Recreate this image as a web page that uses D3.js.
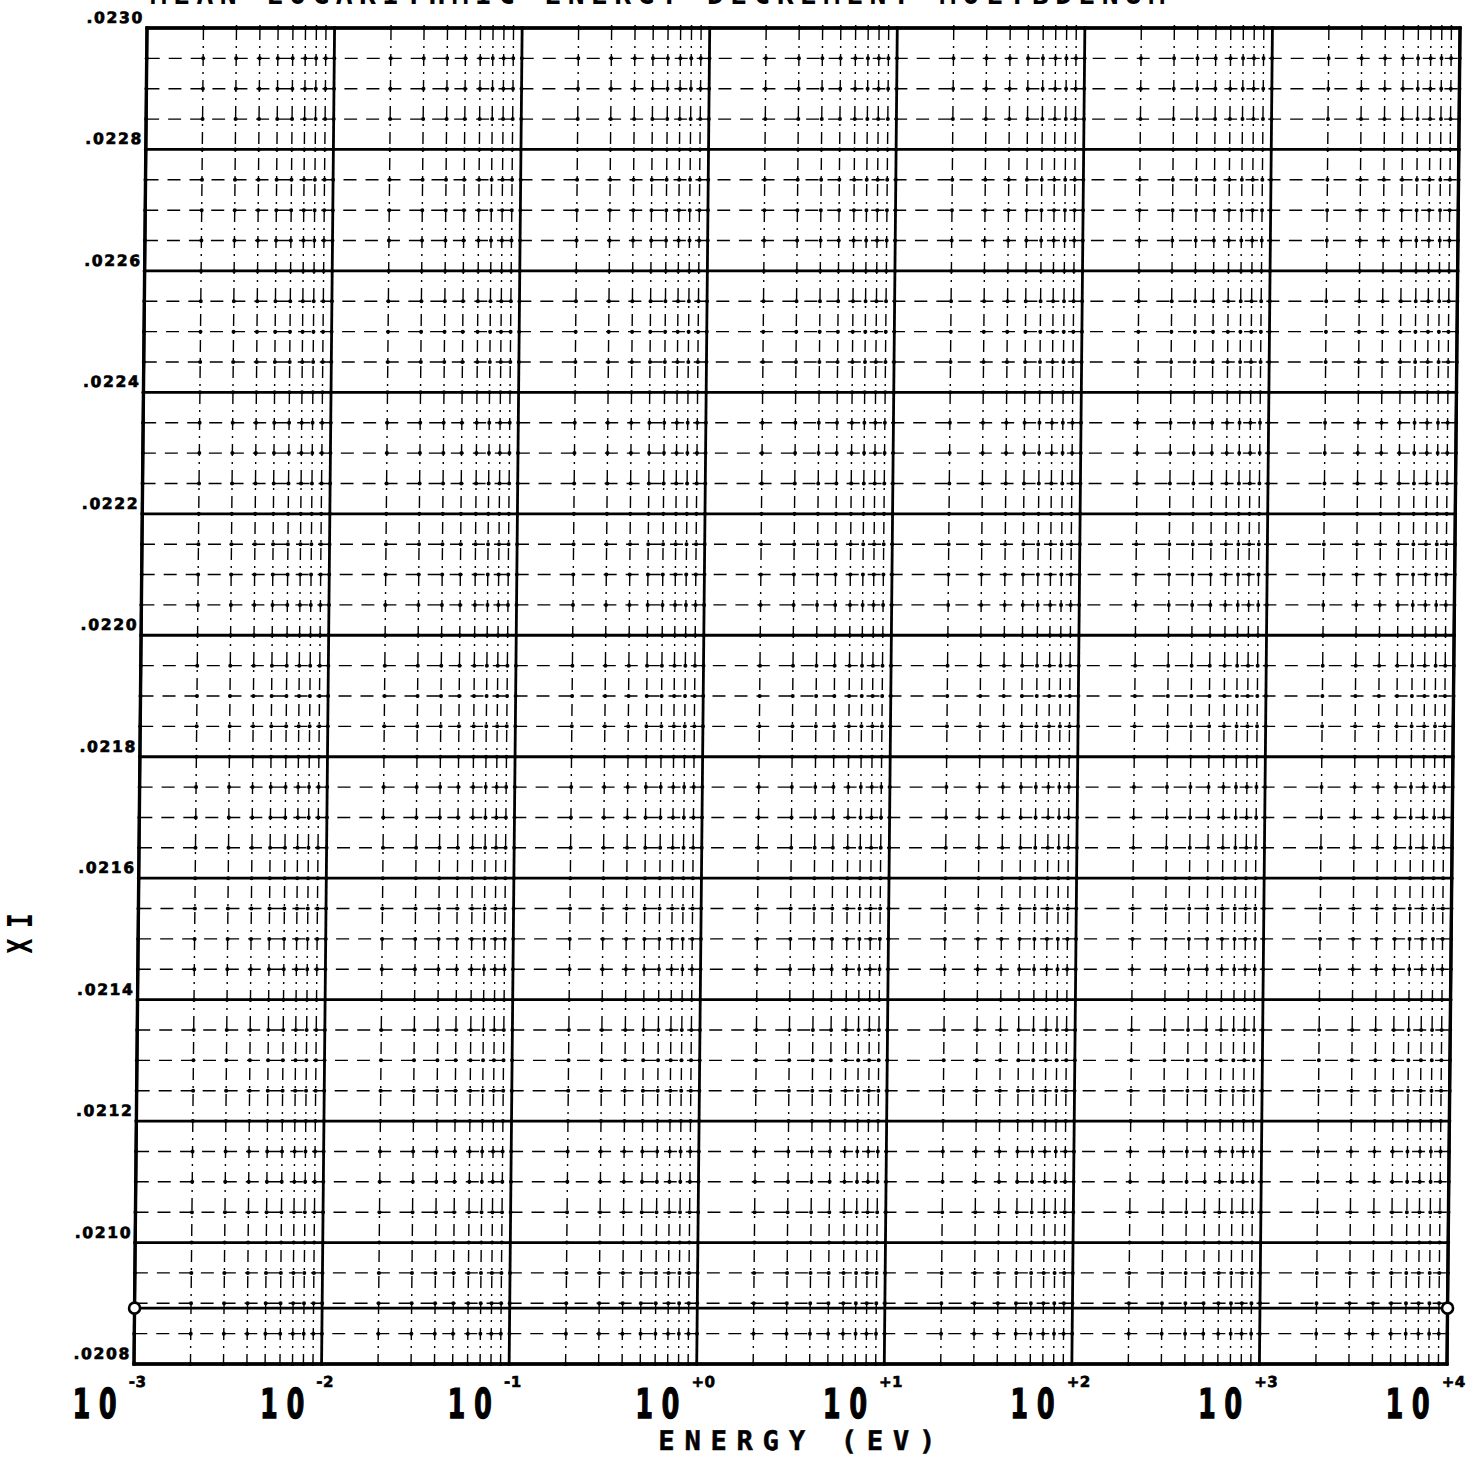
<!DOCTYPE html>
<html>
<head>
<meta charset="utf-8">
<script src="https://cdn.jsdelivr.net/npm/d3@7"></script>
<style>
  html, body { margin: 0; padding: 0; background: #fff; }
  svg { display: block; }
</style>
</head>
<body>
<svg id="chart" width="1467" height="1461"></svg>
<script>
// ---- data ----
const energy = [1e-3, 1e4];            // eV
const xi = [0.020892, 0.020892];       // mean logarithmic energy decrement
const xDecades = [1e-3, 1e-2, 1e-1, 1e0, 1e1, 1e2, 1e3, 1e4];
const xExponents = ["-3", "-2", "-1", "+0", "+1", "+2", "+3", "+4"];
const yMajorTicks = [0.0208, 0.0210, 0.0212, 0.0214, 0.0216, 0.0218,
                     0.0220, 0.0222, 0.0224, 0.0226, 0.0228, 0.0230];
const yTickLabels = [".0208", ".0210", ".0212", ".0214", ".0216", ".0218",
                     ".0220", ".0222", ".0224", ".0226", ".0228", ".0230"];
const titleText = "MEAN LOGARITHMIC ENERGY DECREMENT  MOLYBDENUM";
const xTitle = "ENERGY (EV)";
const yTitle = "XI";

// ---- layout ----
const plot = { left: 147, top: 28, width: 1313, height: 1336 };
const shear = -13 / 1336;                 // plotter frame leans slightly
const shearDeg = Math.atan(shear) * 180 / Math.PI;
const monoBold = "'DejaVu Sans Mono', 'Liberation Mono', monospace";
const sansBold = "'DejaVu Sans', 'Liberation Sans', sans-serif";

const svg = d3.select("#chart");

const x = d3.scaleLog().domain([1e-3, 1e4]).range([0, plot.width]);
const y = d3.scaleLinear().domain([0.0208, 0.0230]).range([plot.height, 0]);

const g = svg.append("g")
  .attr("transform", `translate(${plot.left},${plot.top}) skewX(${shearDeg})`);

// minor positions
const xAll = x.ticks();
const isDecade = v => Math.abs(Math.log10(v) - Math.round(Math.log10(v))) < 1e-9;
const xMinor = xAll.filter(v => !isDecade(v));
const yAll = d3.range(45).map(i => +(0.0208 + i * 0.00005).toFixed(5));
const yMinor = yAll.filter(v => !yMajorTicks.some(m => Math.abs(m - v) < 1e-9));

// minor grid
const minor = g.append("g").attr("stroke", "#000").attr("fill", "none");
minor.selectAll("line.vx").data(xMinor).join("line")
  .attr("x1", d => x(d)).attr("x2", d => x(d))
  .attr("y1", 0).attr("y2", plot.height)
  .attr("stroke-width", 1.4)
  .attr("stroke-dasharray", "12,6,2,6");
minor.selectAll("line.hy").data(yMinor).join("line")
  .attr("x1", 0).attr("x2", plot.width)
  .attr("y1", d => y(d)).attr("y2", d => y(d))
  .attr("stroke-width", 1.4)
  .attr("stroke-dasharray", "13,9");

// cross marks where the grid lines meet
const crosses = [];
xAll.forEach(xv => yAll.forEach(yv => crosses.push([xv, yv])));
g.append("g").selectAll("circle").data(crosses).join("circle")
  .attr("cx", d => x(d[0])).attr("cy", d => y(d[1]))
  .attr("r", 2).attr("fill", "#000");

// small outer ticks along the top edge
g.append("g").attr("stroke", "#000").attr("stroke-width", 1.5)
  .selectAll("line").data(xMinor).join("line")
  .attr("x1", d => x(d)).attr("x2", d => x(d))
  .attr("y1", -3).attr("y2", 0);

// major grid
const major = g.append("g").attr("stroke", "#000").attr("stroke-width", 2.8);
major.selectAll("line.vx").data(xDecades).join("line")
  .attr("x1", d => x(d)).attr("x2", d => x(d))
  .attr("y1", 0).attr("y2", plot.height);
major.selectAll("line.hy").data(yMajorTicks).join("line")
  .attr("x1", 0).attr("x2", plot.width)
  .attr("y1", d => y(d)).attr("y2", d => y(d));

// frame
g.append("rect")
  .attr("x", 0).attr("y", 0).attr("width", plot.width).attr("height", plot.height)
  .attr("fill", "none").attr("stroke", "#000").attr("stroke-width", 3.4);

// data curve
const pts = energy.map((e, i) => [e, xi[i]]);
g.append("path")
  .datum(pts)
  .attr("d", d3.line().x(d => x(d[0])).y(d => y(d[1])))
  .attr("fill", "none").attr("stroke", "#000").attr("stroke-width", 2.6);
g.append("g").selectAll("circle").data(pts).join("circle")
  .attr("cx", d => x(d[0])).attr("cy", d => y(d[1]))
  .attr("r", 5.5).attr("fill", "#fff").attr("stroke", "#000").attr("stroke-width", 2.6);

// y tick labels
g.append("g").selectAll("text").data(yMajorTicks).join("text")
  .attr("x", -3).attr("y", d => y(d) - 5)
  .attr("text-anchor", "end")
  .attr("font-family", sansBold).attr("font-weight", "bold")
  .attr("font-size", 15.5).attr("letter-spacing", 1.7)
  .attr("stroke", "#000").attr("stroke-width", 0.7)
  .text((d, i) => yTickLabels[i]);

// x tick labels: 10 with exponent
const xl = g.append("g").attr("font-family", sansBold).attr("font-weight", "bold")
  .attr("stroke", "#000");
xl.selectAll("text.base").data(xDecades).join("text")
  .attr("class", "base")
  .attr("transform", d => `translate(${x(d) - 61},${1390}) scale(0.62,1)`)
  .attr("font-size", 41).attr("letter-spacing", 14)
  .attr("stroke-width", 1.4)
  .text("10");
xl.selectAll("text.exp").data(xDecades).join("text")
  .attr("class", "exp")
  .attr("x", d => x(d) - 5).attr("y", 1359)
  .attr("font-size", 15).attr("letter-spacing", 0.5)
  .attr("stroke-width", 0.6)
  .text((d, i) => xExponents[i]);

// x axis title
g.append("text")
  .attr("x", plot.width / 2 + 12).attr("y", 1422)
  .attr("text-anchor", "middle")
  .attr("font-family", monoBold).attr("font-weight", "bold")
  .attr("font-size", 27).attr("letter-spacing", 9.8)
  .attr("stroke", "#000").attr("stroke-width", 0.5)
  .text(xTitle);

// y axis title
svg.append("text")
  .attr("transform", "translate(21,928) rotate(-90) scale(0.75,1)")
  .attr("text-anchor", "middle").attr("dominant-baseline", "central")
  .attr("font-family", monoBold).attr("font-weight", "bold")
  .attr("font-size", 33).attr("letter-spacing", 14)
  .text(yTitle);

// chart title, running off the top edge
svg.append("text")
  .attr("x", 150).attr("y", 4)
  .attr("font-family", monoBold).attr("font-weight", "bold")
  .attr("font-size", 28)
  .attr("textLength", 1015).attr("lengthAdjust", "spacing")
  .text(titleText);
</script>
</body>
</html>
